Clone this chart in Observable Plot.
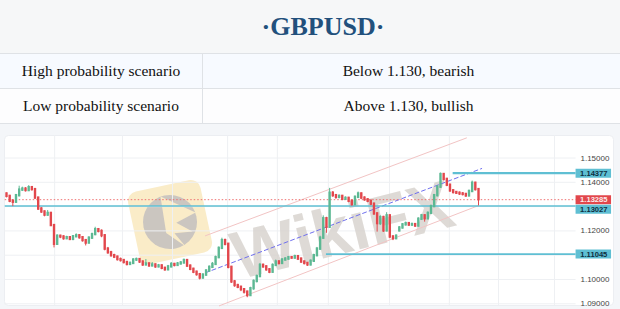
<!DOCTYPE html>
<html><head><meta charset="utf-8">
<script src="https://cdn.jsdelivr.net/npm/d3@7"></script>
<script src="https://cdn.jsdelivr.net/npm/@observablehq/plot@0.6"></script>
<style>
html,body{margin:0;padding:0;}
body{width:620px;height:309px;overflow:hidden;background:#fff;}
#title{height:54px;box-sizing:border-box;border-bottom:1px solid #dfe2e6;background:#f6f7f8;display:flex;align-items:center;justify-content:center;padding-left:26px;font:bold 26px "Liberation Serif","Times New Roman",serif;color:#22507c;}
.row{display:flex;height:35px;box-sizing:border-box;border-bottom:1px solid #dfe2e6;font-family:"Liberation Serif","Times New Roman",serif;font-size:15.5px;color:#111;}
.row div{display:flex;align-items:center;justify-content:center;}
.c1{width:202px;border-right:1px solid #dfe2e6;}
.c2{flex:1;padding-right:6px;}
.r1{background:#f7faff;}
.r2{background:#fdfdfe;}
#chart{height:185px;background:#f4f6f9;}
</style></head>
<body>
<div id="title">·GBPUSD·</div>
<div class="row r1"><div class="c1">High probability scenario</div><div class="c2">Below 1.130, bearish</div></div>
<div class="row r2"><div class="c1">Low probability scenario</div><div class="c2">Above 1.130, bullish</div></div>
<div id="chart"></div>
<script>
// ---- data (GBPUSD candles) ----
const opens = [1.1352,1.1342,1.1322,1.1318,1.1345,1.1368,1.1372,1.1366,1.1378,1.1370,
1.1335,1.1290,1.1278,1.1265,1.1272,1.1222,1.1145,1.1178,1.1175,1.1168,
1.1172,1.1165,1.1176,1.1180,1.1172,1.1160,1.1150,1.1170,1.1185,1.1205,
1.1198,1.1180,1.1125,1.1110,1.1098,1.1092,1.1082,1.1078,1.1070,1.1062,
1.1066,1.1080,1.1082,1.1072,1.1060,1.1064,1.1056,1.1060,1.1052,1.1056,
1.1046,1.1040,1.1052,1.1062,1.1058,1.1064,1.1068,1.1078,1.1055,1.1042,
1.1030,1.1020,1.1006,1.1018,1.1035,1.1050,1.1062,1.1090,1.1128,1.1160,
1.1145,1.1050,1.0990,1.0975,1.0968,1.0958,1.0948,1.0934,1.0962,1.0992,
1.1012,1.1058,1.1052,1.1040,1.1030,1.1058,1.1072,1.1066,1.1080,1.1084,
1.1090,1.1088,1.1094,1.1084,1.1072,1.1066,1.1060,1.1075,1.1098,1.1125,
1.1170,1.1250,1.1215,1.1355,1.1345,1.1338,1.1342,1.1330,1.1334,1.1322,
1.1308,1.1338,1.1352,1.1335,1.1328,1.1322,1.1310,1.1270,1.1230,1.1255,
1.1200,1.1262,1.1175,1.1168,1.1200,1.1212,1.1225,1.1230,1.1224,1.1226,
1.1220,1.1248,1.1262,1.1250,1.1272,1.1300,1.1345,1.1380,1.1432,1.1412,
1.1388,1.1365,1.1358,1.1355,1.1352,1.1350,1.1344,1.1362,1.1396,1.1370];
const highs = [1.1356,1.1346,1.1328,1.1350,1.1384,1.1380,1.1378,1.1386,1.1382,1.1374,
1.1338,1.1296,1.1282,1.1284,1.1276,1.1226,1.1184,1.1182,1.1180,1.1178,
1.1176,1.1180,1.1188,1.1184,1.1176,1.1164,1.1176,1.1190,1.1215,1.1210,
1.1204,1.1184,1.1132,1.1116,1.1104,1.1096,1.1088,1.1082,1.1074,1.1072,
1.1086,1.1088,1.1086,1.1076,1.1082,1.1068,1.1070,1.1064,1.1062,1.1060,
1.1050,1.1058,1.1070,1.1066,1.1070,1.1074,1.1084,1.1082,1.1060,1.1046,
1.1034,1.1024,1.1024,1.1040,1.1056,1.1070,1.1096,1.1134,1.1170,1.1166,
1.1148,1.1054,1.0996,1.0980,1.0972,1.0962,1.0952,1.0968,1.0998,1.1018,
1.1066,1.1064,1.1056,1.1044,1.1064,1.1080,1.1078,1.1086,1.1090,1.1094,
1.1094,1.1100,1.1098,1.1088,1.1076,1.1070,1.1080,1.1104,1.1132,1.1178,
1.1262,1.1256,1.1375,1.1362,1.1350,1.1348,1.1346,1.1340,1.1338,1.1326,
1.1344,1.1360,1.1356,1.1340,1.1332,1.1326,1.1314,1.1274,1.1262,1.1260,
1.1275,1.1266,1.1180,1.1184,1.1218,1.1230,1.1236,1.1234,1.1232,1.1230,
1.1254,1.1268,1.1266,1.1278,1.1306,1.1350,1.1386,1.1438,1.1436,1.1416,
1.1392,1.1370,1.1362,1.1360,1.1358,1.1354,1.1368,1.1405,1.1400,1.1374];
const lows = [1.1336,1.1316,1.1300,1.1314,1.1340,1.1362,1.1360,1.1362,1.1364,1.1330,
1.1284,1.1272,1.1258,1.1260,1.1218,1.1130,1.1140,1.1168,1.1162,1.1164,
1.1160,1.1160,1.1172,1.1166,1.1154,1.1138,1.1146,1.1166,1.1180,1.1192,
1.1172,1.1118,1.1104,1.1092,1.1086,1.1076,1.1072,1.1064,1.1056,1.1058,
1.1062,1.1074,1.1066,1.1054,1.1056,1.1050,1.1052,1.1046,1.1048,1.1040,
1.1034,1.1036,1.1048,1.1052,1.1054,1.1060,1.1064,1.1050,1.1036,1.1024,
1.1014,1.0998,1.1002,1.1014,1.1030,1.1046,1.1058,1.1086,1.1124,1.1138,
1.1044,1.0984,1.0968,1.0962,1.0950,1.0940,1.0925,1.0930,1.0956,1.0986,
1.1008,1.1046,1.1034,1.1024,1.1026,1.1054,1.1060,1.1062,1.1076,1.1080,
1.1084,1.1084,1.1078,1.1066,1.1060,1.1054,1.1056,1.1070,1.1094,1.1120,
1.1166,1.1190,1.1210,1.1338,1.1330,1.1332,1.1324,1.1326,1.1316,1.1302,
1.1304,1.1334,1.1330,1.1322,1.1316,1.1304,1.1264,1.1195,1.1222,1.1194,
1.1196,1.1168,1.1160,1.1164,1.1196,1.1208,1.1220,1.1218,1.1218,1.1214,
1.1216,1.1244,1.1236,1.1246,1.1268,1.1296,1.1340,1.1376,1.1406,1.1382,
1.1358,1.1352,1.1350,1.1346,1.1344,1.1338,1.1340,1.1358,1.1364,1.1303];
const closes = [1.1342,1.1322,1.1318,1.1345,1.1368,1.1372,1.1366,1.1378,1.1370,1.1335,
1.1290,1.1278,1.1265,1.1272,1.1222,1.1145,1.1178,1.1175,1.1168,1.1172,
1.1165,1.1176,1.1180,1.1172,1.1160,1.1150,1.1170,1.1185,1.1205,1.1198,
1.1180,1.1125,1.1110,1.1098,1.1092,1.1082,1.1078,1.1070,1.1062,1.1066,
1.1080,1.1082,1.1072,1.1060,1.1064,1.1056,1.1060,1.1052,1.1056,1.1046,
1.1040,1.1052,1.1062,1.1058,1.1064,1.1068,1.1078,1.1055,1.1042,1.1030,
1.1020,1.1006,1.1018,1.1035,1.1050,1.1062,1.1090,1.1128,1.1160,1.1145,
1.1050,1.0990,1.0975,1.0968,1.0958,1.0948,1.0934,1.0962,1.0992,1.1012,
1.1058,1.1052,1.1040,1.1030,1.1058,1.1072,1.1066,1.1080,1.1084,1.1090,
1.1088,1.1094,1.1084,1.1072,1.1066,1.1060,1.1075,1.1098,1.1125,1.1170,
1.1250,1.1215,1.1355,1.1345,1.1338,1.1342,1.1330,1.1334,1.1322,1.1308,
1.1338,1.1352,1.1335,1.1328,1.1322,1.1310,1.1270,1.1230,1.1255,1.1200,
1.1262,1.1175,1.1168,1.1178,1.1212,1.1225,1.1230,1.1224,1.1226,1.1220,
1.1248,1.1262,1.1250,1.1272,1.1300,1.1345,1.1380,1.1432,1.1412,1.1388,
1.1365,1.1358,1.1355,1.1352,1.1350,1.1344,1.1362,1.1396,1.1370,1.13285];

const yTicks = [1.09, 1.10, 1.11, 1.12, 1.13, 1.14, 1.15];
const yTickLabels = ["1.09000", "1.10000", "1.12000", "1.14000", "1.15000"];
const levelPrices = [1.14377, 1.13027, 1.11045];
const levelStartIdx = [141, -0.4, 101];
const lastPrice = 1.13285;
const timeGridIdx = [15.2, 36.6, 52.4, 69.8, 85.5, 101.6, 120.9, 139.8, 155.3, 173];
const upperChannelIdx = [62.8, 145.2], upperChannelPrice = [1.1180, 1.15825];
const lowerChannelIdx = [67.2, 149.0], lowerChannelPrice = [1.08918, 1.13041];
const midLineIdx = [62.8, 150.0], midLinePrice = [1.10278, 1.14567];

// ---- build tables ----
const candles = closes.map((c, i) => ({i, o: opens[i], h: highs[i], l: lows[i], c}));
const upC = candles.filter(d => d.c >= d.o), dnC = candles.filter(d => d.c < d.o);
const line = (xs, ps) => xs.map((x, k) => ({x, p: ps[k]}));
const levels = levelPrices.map((p, k) => ({p, start: levelStartIdx[k], w: k === 0 ? 2.2 : 1.6}));
const labelPrices = [{p: levelPrices[0], red: false}, {p: lastPrice, red: true}, {p: levelPrices[1], red: false}, {p: levelPrices[2], red: false}];

const UP = "#5cb893", DN = "#e2474c", TEAL = "#5fbfd3";
const AXIS_IDX = 179.8, LABEL_END = 191.0, LABEL_MID = 185.4, TICK_IDX = 181.2;

const yScale = {domain: [1.0893, 1.15926]};
// label collision: push overlapping boxes down
const pxPerUnit = 170 / (yScale.domain[1] - yScale.domain[0]);
const sorted = [...labelPrices].sort((a, b) => b.p - a.p);
let prevY = -Infinity;
for (const d of sorted) {
  let y = (yScale.domain[1] - d.p) * pxPerUnit;
  d.dy = 0;
  if (y < prevY + 9.6) { d.dy = prevY + 9.6 - y; y = prevY + 9.6; }
  prevY = y;
}

const chart = Plot.plot({
  width: 620, height: 185,
  marginTop: 11, marginBottom: 4, marginLeft: 4, marginRight: 7,
  x: {type: "linear", domain: [0, 149], range: [6, 478], axis: null},
  y: {...yScale, axis: null},
  style: {background: "transparent", fontFamily: "'Liberation Sans', Arial, sans-serif"},
  marks: [
    Plot.frame({fill: "#ffffff", stroke: "#eceef2", rx: 4}),
    Plot.ruleY(yTicks, {y: d => d, x1: -0.6, x2: AXIS_IDX, stroke: "#eef0f3", strokeWidth: 1}),
    Plot.ruleX(timeGridIdx, {x: d => d, stroke: "#eef0f3", strokeWidth: 1}),
    Plot.text(["WikiFX"], {text: d => d, frameAnchor: "top-left", dx: 332, dy: 70, rotate: -14,
      fontSize: 68, fontWeight: "bold", letterSpacing: 3, fill: "#d6d1cc", fillOpacity: 0.8, textAnchor: "middle"}),
    Plot.line(line(upperChannelIdx, upperChannelPrice), {x: "x", y: "p", stroke: "#f2c4c4", strokeWidth: 1}),
    Plot.line(line(lowerChannelIdx, lowerChannelPrice), {x: "x", y: "p", stroke: "#f2c4c4", strokeWidth: 1}),
    Plot.line(line(midLineIdx, midLinePrice), {x: "x", y: "p", stroke: "#7070ee", strokeWidth: 1, strokeDasharray: "4,3"}),
    Plot.ruleY([lastPrice], {y: d => d, x1: -0.4, x2: AXIS_IDX, stroke: "#ee7070", strokeWidth: 1, strokeDasharray: "1.5,2"}),
    Plot.ruleY(levels, {y: "p", x1: "start", x2: AXIS_IDX, stroke: TEAL, strokeWidth: "w"}),
    Plot.ruleX(upC, {x: "i", y1: "l", y2: "h", stroke: UP, strokeWidth: 1}),
    Plot.ruleX(dnC, {x: "i", y1: "l", y2: "h", stroke: DN, strokeWidth: 1}),
    Plot.ruleX(upC, {x: "i", y1: "o", y2: "c", stroke: UP, strokeWidth: 2.4, strokeLinecap: "square"}),
    Plot.ruleX(dnC, {x: "i", y1: "o", y2: "c", stroke: DN, strokeWidth: 2.4, strokeLinecap: "square"}),
    Plot.text(yTickLabels, {x: TICK_IDX, y: d => +d, text: d => d, textAnchor: "start", fontSize: 8, fill: "#444"}),
    ...labelPrices.map(d => Plot.ruleY([d], {y: "p", x1: AXIS_IDX, x2: LABEL_END, stroke: d.red ? DN : TEAL, strokeWidth: 9, dy: d.dy})),
    ...labelPrices.map(d => Plot.text([d], {x: LABEL_MID, y: "p", text: v => v.p.toFixed(5), dy: d.dy, fontSize: 7.6, fontWeight: 600,
      fill: d.red ? "#fde9e9" : "#0f2f3f", textAnchor: "middle"}))
  ]
});
document.getElementById("chart").appendChild(chart);

// WikiFX logo watermark (decorative), placed under the candles
const frameEl = chart.querySelector('[aria-label="frame"]');
const g = document.createElementNS("http://www.w3.org/2000/svg", "g");
frameEl.after(g);
const lg = d3.select(g).attr("transform", "translate(170,98) rotate(-12)").attr("opacity", 0.8);
lg.append("rect").attr("x", -37).attr("y", -37).attr("width", 74).attr("height", 74).attr("rx", 10).attr("fill", "#f9e8bb");
lg.append("circle").attr("r", 27).attr("fill", "#bfb8b1");
lg.append("path").attr("d", "M-4,-27 L27,-4 L6,2 L20,14 L2,12 L10,27 L-6,10 Z").attr("fill", "#f9e8bb");
</script>
</body></html>
